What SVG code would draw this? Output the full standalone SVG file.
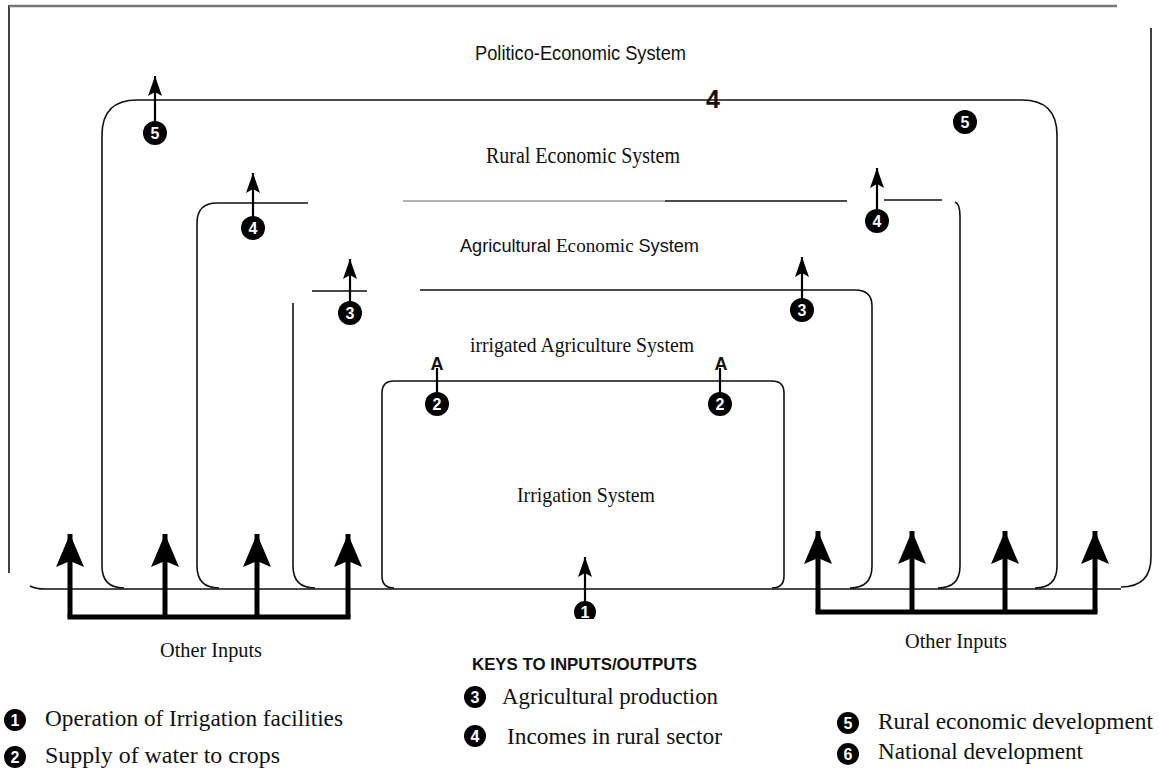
<svg xmlns="http://www.w3.org/2000/svg" width="1159" height="780" viewBox="0 0 1159 780">
<style>
.bx{fill:none;stroke:#111;stroke-width:1.6}
.gr{fill:none;stroke:#999;stroke-width:1.4}
.ar{fill:none;stroke:#000;stroke-width:2.2}
.big{fill:none;stroke:#000;stroke-width:5}
.cn circle{fill:#000}
.cn text{fill:#fff;font-family:"Liberation Sans",Arial,sans-serif;font-weight:bold;font-size:16px;text-anchor:middle}
.serif{font-family:"Liberation Serif","Times New Roman",serif;fill:#111}
.sans{font-family:"Liberation Sans",Arial,sans-serif;fill:#111}
</style>
<defs>
<marker id="ah" markerUnits="userSpaceOnUse" markerWidth="22" markerHeight="16" refX="20" refY="7" orient="auto"><path d="M0,0 L20,7 L0,14 L4,7 Z" fill="#000"/></marker>
<marker id="ahb" markerUnits="userSpaceOnUse" markerWidth="36" markerHeight="30" refX="33" refY="14" orient="auto"><path d="M0,0 L33,14 L0,28 L6,14 Z" fill="#000"/></marker>
<clipPath id="cut1"><rect x="570" y="590" width="30" height="29"/></clipPath>
</defs>
<rect width="1159" height="780" fill="#fff"/>

<g id="politico-economic-system">
<path d="M9,5 V573" class="bx" stroke-width="2.2"/>
<path d="M9,6 H1117" fill="none" stroke="#777" stroke-width="2.4"/>
<path d="M1151,28 V557 Q1151,587 1121,587" class="bx"/>
<path d="M30,586 Q35,589 46,589 H1121" class="bx"/>
<text x="475" y="60" class="sans" font-size="20" textLength="211" lengthAdjust="spacingAndGlyphs">Politico-Economic System</text>
</g>

<g id="rural-economic-system">
<path d="M124,588 Q102,588 102,566 V135 Q102,100 137,100 H1022 Q1057,100 1057,135 V566 Q1057,588 1035,588" class="bx"/>
<text x="486" y="163" class="serif" font-size="23" textLength="194" lengthAdjust="spacingAndGlyphs">Rural Economic System</text>
<text x="713" y="108" class="sans" font-size="25" font-weight="bold" text-anchor="middle">4</text>
</g>

<g id="agricultural-economic-system">
<path d="M219,588 Q197,588 197,566 V223 Q197,203 217,203 H308 M665,201 H847 M884,200 H942 M955,202 Q960,204 960,216 V566 Q960,588 938,588" class="bx"/>
<path d="M403,201 H665" class="gr"/>
<text x="460" y="252" class="sans" font-size="18" textLength="239" lengthAdjust="spacingAndGlyphs">Agricultural <tspan class="serif" font-size="19">Economic </tspan>System</text>
</g>

<g id="irrigated-agriculture-system">
<path d="M315,588 Q293,588 293,566 V303 M312,291 H367 M420,290 H855 Q872,290 872,306 V566 Q872,588 850,588" class="bx"/>
<text x="470" y="352" class="serif" font-size="22" textLength="224" lengthAdjust="spacingAndGlyphs">irrigated Agriculture System</text>
</g>

<g id="irrigation-system">
<path d="M394,588 Q382,588 382,576 V393 Q382,381 394,381 H772 Q784,381 784,393 V576 Q784,588 772,588" class="bx"/>
<text x="517" y="502" class="serif" font-size="22" textLength="138" lengthAdjust="spacingAndGlyphs">Irrigation System</text>
</g>

<g id="connectors">
<path d="M155,121 V76" class="ar" marker-end="url(#ah)"/>
<path d="M253,216 V173" class="ar" marker-end="url(#ah)"/>
<path d="M350,301 V259" class="ar" marker-end="url(#ah)"/>
<path d="M877,209 V168" class="ar" marker-end="url(#ah)"/>
<path d="M802,298 V257" class="ar" marker-end="url(#ah)"/>
<path d="M437,392 V368" class="ar"/>
<path d="M720,392 V368" class="ar"/>
<text x="437" y="370" class="sans" font-size="18" font-weight="bold" text-anchor="middle">A</text>
<text x="721" y="370" class="sans" font-size="18" font-weight="bold" text-anchor="middle">A</text>
<path d="M585,601 V557" class="ar" marker-end="url(#ah)"/>
<path d="M70,617 H348" class="big" stroke-width="4.5" stroke-linecap="square"/>
<path d="M70,617 V534" class="big" marker-end="url(#ahb)"/>
<path d="M165,617 V534" class="big" marker-end="url(#ahb)"/>
<path d="M257,617 V534" class="big" marker-end="url(#ahb)"/>
<path d="M348,617 V534" class="big" marker-end="url(#ahb)"/>
<path d="M818,612 H1095" class="big" stroke-width="4.5" stroke-linecap="square"/>
<path d="M818,612 V531" class="big" marker-end="url(#ahb)"/>
<path d="M912,612 V531" class="big" marker-end="url(#ahb)"/>
<path d="M1005,612 V531" class="big" marker-end="url(#ahb)"/>
<path d="M1095,612 V531" class="big" marker-end="url(#ahb)"/>
</g>

<g id="markers" class="cn">
<g><circle cx="155" cy="133" r="12"/><text x="155" y="139">5</text></g>
<g><circle cx="965" cy="122" r="12"/><text x="965" y="128">5</text></g>
<g><circle cx="253" cy="228" r="12"/><text x="253" y="234">4</text></g>
<g><circle cx="877" cy="221" r="12"/><text x="877" y="227">4</text></g>
<g><circle cx="350" cy="313" r="12"/><text x="350" y="319">3</text></g>
<g><circle cx="802" cy="310" r="12"/><text x="802" y="316">3</text></g>
<g><circle cx="437" cy="404" r="12"/><text x="437" y="410">2</text></g>
<g><circle cx="720" cy="404" r="12"/><text x="720" y="410">2</text></g>
<g clip-path="url(#cut1)"><circle cx="585" cy="612" r="11"/><text x="585" y="618">1</text></g>
</g>

<g id="other-inputs-left">
<text x="160" y="657" class="serif" font-size="20" textLength="102" lengthAdjust="spacingAndGlyphs">Other Inputs</text>
</g>
<g id="other-inputs-right">
<text x="905" y="648" class="serif" font-size="20" textLength="102" lengthAdjust="spacingAndGlyphs">Other Inputs</text>
</g>

<g id="legend">
<text x="472" y="670" class="sans" font-size="17" font-weight="bold" textLength="225" lengthAdjust="spacingAndGlyphs">KEYS TO INPUTS/OUTPUTS</text>
<g class="cn"><circle cx="15" cy="720" r="11"/><text x="15" y="726">1</text></g>
<text x="45" y="726" class="serif" font-size="23" textLength="298" lengthAdjust="spacingAndGlyphs">Operation of Irrigation facilities</text>
<g class="cn"><circle cx="15" cy="757" r="11"/><text x="15" y="763">2</text></g>
<text x="45" y="763" class="serif" font-size="23" textLength="235" lengthAdjust="spacingAndGlyphs">Supply of water to crops</text>
<g class="cn"><circle cx="475" cy="697" r="11"/><text x="475" y="703">3</text></g>
<text x="502" y="704" class="serif" font-size="23" textLength="216" lengthAdjust="spacingAndGlyphs">Agricultural production</text>
<g class="cn"><circle cx="475" cy="736" r="11"/><text x="475" y="742">4</text></g>
<text x="507" y="744" class="serif" font-size="23" textLength="215" lengthAdjust="spacingAndGlyphs">Incomes in rural sector</text>
<g class="cn"><circle cx="848" cy="723" r="11"/><text x="848" y="729">5</text></g>
<text x="878" y="729" class="serif" font-size="23" textLength="275" lengthAdjust="spacingAndGlyphs">Rural economic development</text>
<g class="cn"><circle cx="848" cy="754" r="11"/><text x="848" y="760">6</text></g>
<text x="878" y="759" class="serif" font-size="23" textLength="205" lengthAdjust="spacingAndGlyphs">National development</text>
</g>
</svg>
